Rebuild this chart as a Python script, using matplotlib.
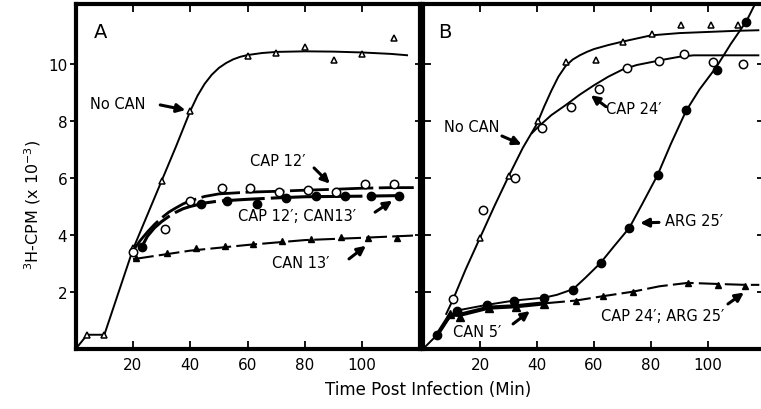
import matplotlib
matplotlib.use("Agg")
import matplotlib.pyplot as plt

# ---------------- Panel A data (measured points) ----------------
a_nocan_x = [4, 10, 20, 30, 40, 60, 70, 80, 90, 100, 111]
a_nocan_y = [0.5, 0.5, 3.55, 5.9, 8.35, 10.27, 10.39, 10.58, 10.14, 10.35, 10.9]
a_cap12_x = [20, 31, 40, 51, 61, 71, 81, 91, 101, 111]
a_cap12_y = [3.4, 4.2, 5.2, 5.65, 5.66, 5.5, 5.56, 5.52, 5.79, 5.79]
a_capcan_x = [23, 43.6, 52.7, 63.2, 73.4, 83.9, 94, 103, 113]
a_capcan_y = [3.57, 5.09, 5.2, 5.09, 5.28, 5.38, 5.35, 5.35, 5.38]
a_can13_x = [21, 32, 42, 52, 62, 72, 82, 92.6, 102, 112]
a_can13_y = [3.18, 3.35, 3.53, 3.6, 3.7, 3.8, 3.86, 3.92, 3.88, 3.88]

# hand-drawn fitted curves, panel A
a_nocan_fit_x = [0, 4, 10, 15, 20, 25, 30, 35, 40, 42.5, 45, 47.5, 50, 52.5, 55, 57.5, 60, 65,
                 70, 80, 90, 100, 110, 116]
a_nocan_fit_y = [0, 0.5, 0.5, 2.0, 3.5, 4.7, 5.9, 7.1, 8.35, 8.88, 9.3, 9.62, 9.86, 10.03, 10.16,
                 10.25, 10.31, 10.38, 10.42, 10.44, 10.43, 10.4, 10.35, 10.3]
a_cap12_fit_x = [20, 22.5, 25, 27.5, 30, 32.5, 35, 37.5, 40, 45, 50, 60, 70, 80, 90, 100, 110, 118]
a_cap12_fit_y = [3.45, 3.8, 4.1, 4.37, 4.6, 4.8, 4.95, 5.09, 5.2, 5.35, 5.44, 5.5, 5.53, 5.57,
                 5.6, 5.64, 5.66, 5.66]
a_capcan_fit_x = [23, 25, 27.5, 30, 32.5, 35, 37.5, 40, 45, 50, 60, 70, 80, 90, 100, 113]
a_capcan_fit_y = [3.57, 3.95, 4.25, 4.47, 4.65, 4.8, 4.92, 5.0, 5.12, 5.19, 5.25, 5.3, 5.34,
                  5.35, 5.36, 5.38]
a_can13_fit_x = [20, 40, 60, 80, 100, 118]
a_can13_fit_y = [3.15, 3.45, 3.65, 3.82, 3.9, 3.98]

# ---------------- Panel B data (measured points) ----------------
b_nocan_x = [20, 30, 40.5, 50, 60.7, 70, 80.4, 90.7, 101.2, 110.6]
b_nocan_y = [3.88, 6.08, 7.98, 10.06, 10.12, 10.76, 11.05, 11.37, 11.37, 11.37]
b_cap24_x = [10.6, 21, 32.3, 41.6, 51.9, 61.8, 71.7, 82.8, 91.7, 101.9, 112.4]
b_cap24_y = [1.75, 4.89, 5.98, 7.74, 8.48, 9.12, 9.86, 10.09, 10.35, 10.06, 10.0]
b_arg25_x = [5, 12, 22.5, 32, 42.5, 52.7, 62.3, 72.4, 82.3, 92.3, 103, 113.5]
b_arg25_y = [0.5, 1.34, 1.55, 1.7, 1.78, 2.08, 3.02, 4.25, 6.1, 8.39, 9.79, 11.46]
b_can5_x = [9.5, 13, 23, 32.6, 42.5]
b_can5_y = [1.23, 1.13, 1.43, 1.46, 1.58]
b_caparg_x = [53.7, 63, 73.6, 93, 103.6, 113]
b_caparg_y = [1.7, 1.85, 2.01, 2.32, 2.25, 2.22]

# hand-drawn fitted curves, panel B
b_nocan_fit_x = [8, 10.6, 15, 20, 25, 30, 35, 40, 42.5, 45, 47.5, 50, 52.5, 55, 57.5, 60, 65,
                 70, 80, 90, 100, 110, 118]
b_nocan_fit_y = [1.2, 1.75, 2.8, 3.9, 5.0, 6.05, 7.05, 7.9, 8.5, 9.05, 9.55, 9.92, 10.15, 10.3,
                 10.42, 10.52, 10.66, 10.78, 11.0, 11.08, 11.12, 11.16, 11.18]
b_cap24_fit_x = [38, 40, 45, 50, 55, 60, 65, 70, 75, 80, 85, 90, 95, 100, 110, 118]
b_cap24_fit_y = [7.55, 7.75, 8.2, 8.55, 8.92, 9.25, 9.55, 9.8, 9.96, 10.06, 10.16, 10.25, 10.3,
                 10.3, 10.3, 10.3]
b_arg25_fit_x = [0, 5, 10, 12, 22.5, 32, 42.5, 47, 52.7, 57, 62.3, 67, 72.4, 77, 82.3, 87,
                 92.3, 97, 103, 108, 113.5, 116.5]
b_arg25_fit_y = [0, 0.5, 1.2, 1.35, 1.55, 1.7, 1.8, 1.9, 2.1, 2.5, 3.02, 3.6, 4.25, 5.1, 6.1,
                 7.2, 8.35, 9.1, 9.9, 10.7, 11.5, 12.1]
b_can5_fit_x = [5, 9.5, 13, 23, 32.6, 42.5]
b_can5_fit_y = [0.5, 1.2, 1.2, 1.45, 1.5, 1.6]
b_caparg_fit_x = [42.5, 53.7, 63, 73.6, 83, 93, 103.6, 113, 118]
b_caparg_fit_y = [1.6, 1.7, 1.85, 2.01, 2.2, 2.32, 2.28, 2.25, 2.25]

x_ticks = [20, 40, 60, 80, 100]
y_ticks = [2, 4, 6, 8, 10]

W, H = 761, 410
fig = plt.figure(figsize=(W / 100, H / 100), dpi=100)


def px_axes(x0, x1, y0, y1):
    # pixel box (left, right, top, bottom) -> figure fraction
    return fig.add_axes([x0 / W, 1 - y1 / H, (x1 - x0) / W, (y1 - y0) / H])


axA = px_axes(75.7, 419.5, 5, 350)
axB = px_axes(423, 765, 5, 350)

for ax in (axA, axB):
    ax.set_xlim(0, 120)
    ax.set_ylim(0, 12.1)
    ax.set_xticks(x_ticks)
    ax.set_yticks(y_ticks)
    ax.set_xticklabels([str(t) for t in x_ticks], fontsize=11)
    for s in ax.spines.values():
        s.set_linewidth(3)
    ax.tick_params(axis='x', direction='in', top=True, bottom=True,
                   length=6, width=1.3, pad=6)

axA.tick_params(axis='y', direction='out', left=True, right=True, length=4, width=1.3,
                labelsize=11, pad=2)
axB.tick_params(axis='y', direction='inout', left=True, right=True, length=12, width=1.3,
                labelleft=False)

sty_open = dict(markerfacecolor='white', markeredgecolor='black', markeredgewidth=1.1,
                linestyle='none')
sty_fill = dict(color='black', linestyle='none')
line = dict(color='black', lw=1.4, solid_capstyle='butt', solid_joinstyle='round')

# ---- Panel A ----
axA.plot(a_nocan_fit_x, a_nocan_fit_y, **line)
axA.plot(a_cap12_fit_x, a_cap12_fit_y, color='black', lw=2.0, dashes=(14, 2))
axA.plot(a_capcan_fit_x, a_capcan_fit_y, color='black', lw=2.2, dashes=(14, 2))
axA.plot(a_can13_fit_x, a_can13_fit_y, color='black', lw=1.5, dashes=(10, 2.5))
axA.plot(a_nocan_x, a_nocan_y, marker='^', markersize=5, **sty_open)
axA.plot(a_cap12_x, a_cap12_y, marker='o', markersize=6, **sty_open)
axA.plot(a_capcan_x, a_capcan_y, marker='o', markersize=6, **sty_fill)
axA.plot(a_can13_x, a_can13_y, marker='^', markersize=5, **sty_fill)

# ---- Panel B ----
axB.plot(b_nocan_fit_x, b_nocan_fit_y, **line)
axB.plot(b_cap24_fit_x, b_cap24_fit_y, **line)
axB.plot(b_arg25_fit_x, b_arg25_fit_y, **line)
axB.plot(b_can5_fit_x, b_can5_fit_y, color='black', lw=3.0)
axB.plot(b_caparg_fit_x, b_caparg_fit_y, color='black', lw=1.5, dashes=(10, 2.5))
axB.plot(b_nocan_x, b_nocan_y, marker='^', markersize=5, **sty_open)
axB.plot(b_cap24_x, b_cap24_y, marker='o', markersize=6, **sty_open)
axB.plot(b_arg25_x, b_arg25_y, marker='o', markersize=6, **sty_fill)
axB.plot(b_can5_x, b_can5_y, marker='^', markersize=6, **sty_fill)
axB.plot(b_caparg_x, b_caparg_y, marker='^', markersize=5, **sty_fill)

arrow = dict(arrowstyle='-|>,head_length=0.5,head_width=0.25', color='black', lw=2.2,
             shrinkA=0, shrinkB=0)
txt = dict(fontsize=10.5, va='center', ha='left')


def label(ax, text, tx, ty, ax0, ay0, ax1, ay1):
    ax.text(tx, ty, text, **txt)
    ax.annotate('', xy=(ax1, ay1), xytext=(ax0, ay0), arrowprops=arrow)


axA.text(8.5, 11.15, 'A', fontsize=14, ha='center', va='center')
label(axA, 'No CAN', 5.0, 8.6, 29.5, 8.56, 38.3, 8.38)
label(axA, 'CAP 12′', 60.8, 6.6, 83.2, 6.35, 88.7, 5.8)
label(axA, 'CAP 12′; CAN13′', 56.8, 4.67, 104.5, 4.8, 110.5, 5.2)
label(axA, 'CAN 13′', 68.5, 3.05, 95.4, 3.16, 101.3, 3.62)

axB.text(7.7, 11.12, 'B', fontsize=14, ha='center', va='center')
label(axB, 'No CAN', 7.2, 7.82, 27.7, 7.47, 34.6, 7.17)
label(axB, 'CAP 24′', 64.2, 8.42, 64.2, 8.5, 58.9, 8.9)
label(axB, 'ARG 25′', 84.9, 4.49, 82.8, 4.44, 76.2, 4.42)
label(axB, 'CAN 5′', 10.5, 0.63, 31.6, 0.88, 37.5, 1.33)
label(axB, 'CAP 24′; ARG 25′', 62.5, 1.16, 107, 1.58, 112.6, 1.98)

fig.text(33 / W, 1 - 205 / H, r'$^3$H-CPM (x 10$^{-3}$)', rotation=90,
         ha='center', va='center', fontsize=11.5)
fig.text(428 / W, 1 - 390 / H, 'Time Post Infection (Min)', ha='center', va='center',
         fontsize=12)

fig.savefig('out.png', dpi=100)
